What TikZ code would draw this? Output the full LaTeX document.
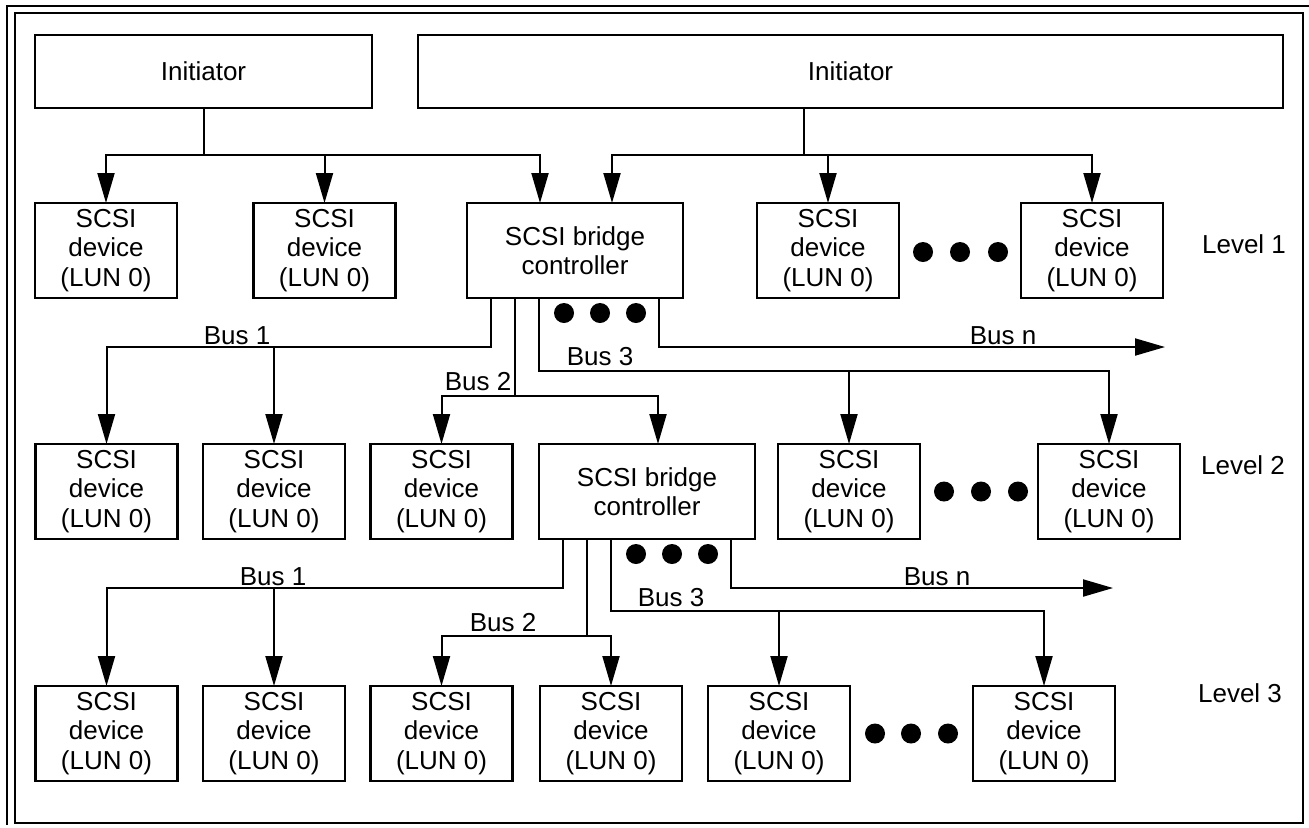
\documentclass[tikz,border=0pt]{standalone}
\usepackage{fontspec}
\setmainfont{Liberation Sans}
\usetikzlibrary{arrows.meta,calc}
\begin{document}
\begin{tikzpicture}[x=0.5pt,y=-0.5pt,
  txt/.style={font=\fontsize{13}{14.8}\selectfont, inner sep=0pt},
  box/.style={txt, draw, line width=1.25pt, outer sep=0pt, align=center},
  dev/.style={box, minimum width=71pt, minimum height=47.5pt},
  bridge/.style={box, minimum width=108pt, minimum height=47.5pt},
  ini/.style={box, minimum width=168.5pt, minimum height=36.5pt},
  conn/.style={line width=1pt},
  arr/.style={conn, -{Triangle[length=15pt,width=8.5pt]}},
  frame/.style={line width=1.3pt}]
\useasboundingbox (0,0) rectangle (1309,827);

% page frame
\draw[frame] (15,13) rectangle (1303,823);
\draw[frame] (7,825) -- (7,6) -- (1309,6);

% initiators
\node[ini] (ini1) at (203.5,71.5) {Initiator};
\node[ini, minimum width=432.5pt] (ini2) at (850.5,71.5) {Initiator};

% level 1
\node[dev] (d1a) at (106,250.5) {SCSI\\device\\(LUN 0)};
\node[dev] (d1b) at (324.5,250.5) {SCSI\\device\\(LUN 0)};
\node[bridge] (br1) at (575,250.5) {SCSI bridge\\controller};
\node[dev] (d1c) at (828,250.5) {SCSI\\device\\(LUN 0)};
\node[dev] (d1d) at (1092,250.5) {SCSI\\device\\(LUN 0)};
\node[txt] (lv1) at (1244,244) {Level 1};

% level 2
\node[dev] (d2a) at (106.5,491.5) {SCSI\\device\\(LUN 0)};
\node[dev] (d2b) at (274,491.5) {SCSI\\device\\(LUN 0)};
\node[dev] (d2c) at (441.5,491.5) {SCSI\\device\\(LUN 0)};
\node[bridge] (br2) at (647,491.5) {SCSI bridge\\controller};
\node[dev] (d2d) at (849,491.5) {SCSI\\device\\(LUN 0)};
\node[dev] (d2e) at (1109,491.5) {SCSI\\device\\(LUN 0)};
\node[txt] (lv2) at (1243,465) {Level 2};

% level 3
\node[dev] (d3a) at (106.5,733.5) {SCSI\\device\\(LUN 0)};
\node[dev] (d3b) at (274,733.5) {SCSI\\device\\(LUN 0)};
\node[dev] (d3c) at (441.5,733.5) {SCSI\\device\\(LUN 0)};
\node[dev] (d3d) at (611,733.5) {SCSI\\device\\(LUN 0)};
\node[dev] (d3e) at (779,733.5) {SCSI\\device\\(LUN 0)};
\node[dev] (d3f) at (1044,733.5) {SCSI\\device\\(LUN 0)};
\node[txt] (lv3) at (1240,693) {Level 3};

% ellipsis dots between devices
\foreach \x in {923,960,998} \fill (\x,252) circle (5pt);
\foreach \x in {944,981,1018} \fill (\x,491.5) circle (5pt);
\foreach \x in {875,911,948} \fill (\x,733.5) circle (5pt);

% initiator buses
\coordinate (h0) at (0,155);
\draw[arr] (ini1.south) |- (h0 -| d1a) -- (d1a.north);
\draw[arr] (ini1.south |- h0) -| ($(br1.north)+(-35,0)$);
\draw[arr] (h0 -| d1b) -- (d1b.north);
\coordinate (s2) at ($(ini2.south)+(-47,0)$);
\draw[conn] (s2) -- (s2 |- h0);
\draw[arr] (s2 |- h0) -| ($(br1.north)+(37,0)$);
\draw[arr] (s2 |- h0) -| (d1d.north);
\draw[arr] (h0 -| d1c) -- (d1c.north);

% buses of the first bridge controller
\coordinate (p11) at ($(br1.south west)+(24,0)$);
\coordinate (p12) at ($(br1.south west)+(48,0)$);
\coordinate (p13) at ($(br1.south west)+(72,0)$);
\coordinate (p14) at ($(br1.south west)+(192,0)$);
\coordinate (h11) at (0,347);
\coordinate (h12) at (0,396);
\coordinate (h13) at (0,371);
\coordinate (e1) at (1165,347);
\draw[arr] (p11) |- (h11 -| d2a) -- (d2a.north);
\draw[arr] (h11 -| d2b) -- (d2b.north);
\draw[arr] (p12) |- (h12 -| d2c) -- (d2c.north);
\draw[arr] (p12 |- h12) -| ($(br2.north)+(11,0)$);
\draw[arr] (p13) |- (h13 -| d2e) -- (d2e.north);
\draw[arr] (h13 -| d2d) -- (d2d.north);
\draw[arr] (p14) |- (e1);
\foreach \dx in {97,133,169} \fill ($(br1.south west)+(\dx,15)$) circle (5pt);
\node[txt] (b11) at (237,336) {Bus 1};
\node[txt] (b12) at (478,382) {Bus 2};
\node[txt] (b13) at (600,357) {Bus 3};
\node[txt] (b1n) at (1003,336) {Bus n};

% buses of the second bridge controller
\coordinate (p21) at ($(br2.south west)+(24,0)$);
\coordinate (p22) at ($(br2.south west)+(48,0)$);
\coordinate (p23) at ($(br2.south west)+(72,0)$);
\coordinate (p24) at ($(br2.south west)+(192,0)$);
\coordinate (h21) at (0,588);
\coordinate (h22) at (0,636);
\coordinate (h23) at (0,611);
\coordinate (e2) at (1113,588);
\draw[arr] (p21) |- (h21 -| d3a) -- (d3a.north);
\draw[arr] (h21 -| d3b) -- (d3b.north);
\draw[arr] (p22) |- (h22 -| d3c) -- (d3c.north);
\draw[arr] (p22 |- h22) -| (d3d.north);
\draw[arr] (p23) |- (h23 -| d3f) -- (d3f.north);
\draw[arr] (h23 -| d3e) -- (d3e.north);
\draw[arr] (p24) |- (e2);
\foreach \dx in {97,133,169} \fill ($(br2.south west)+(\dx,15)$) circle (5pt);
\node[txt] (b21) at (273,577) {Bus 1};
\node[txt] (b22) at (503,623) {Bus 2};
\node[txt] (b23) at (671,598) {Bus 3};
\node[txt] (b2n) at (937,577) {Bus n};
\end{tikzpicture}
\end{document}
